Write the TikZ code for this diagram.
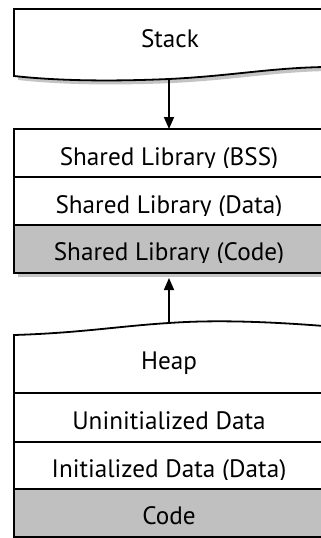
\documentclass[tikz,border=0pt]{standalone}
\usepackage{fontspec}
\setmainfont{PT Sans}
\usetikzlibrary{arrows.meta}
\definecolor{shadowgray}{HTML}{C4C4C4}
\definecolor{codegray}{HTML}{C0C0C0}
\begin{document}
\begin{tikzpicture}[x=1pt,y=-1pt,
  edge/.style={line width=1.8pt, line join=miter},
  lbl/.style={font=\fontsize{25.2}{30}\selectfont, anchor=base, inner sep=0pt},
  conn/.style={line width=1.6pt, -{Triangle[length=12pt,width=10pt]}},
  shade/.style={fill=shadowgray, draw=none},
]
\clip (0,0) rectangle (321,538);

% ---------- Stack ----------
\fill[shade, shift={(4,4)}] (14,9) -- (324,9) -- (324,67)
  .. controls (270,68) and (230,76) .. (169,79)
  .. controls (100,82) and (50,80) .. (14,76) -- cycle;
\draw[edge, fill=white] (14,9) -- (324,9) -- (324,67)
  .. controls (270,68) and (230,76) .. (169,79)
  .. controls (100,82) and (50,80) .. (14,76) -- cycle;
\node[lbl] (stack) at (170,47) {Stack};
\coordinate (stackbot) at (169,79);

% ---------- Shared library ----------
\fill[shade] (18,133) rectangle (328,277);
\fill[white] (14,129) rectangle (324,225);
\fill[codegray] (14,225) rectangle (324,273);
\draw[edge] (14,129) rectangle (324,273);
\draw[edge] (14,177) -- (324,177);
\draw[edge] (14,225) -- (324,225);
\coordinate (libtop) at (169,129);
\coordinate (libbot) at (169,278);
\begin{scope}
  \clip (14,130) rectangle (324,167);
  \node[lbl] (bss) at (169,165) {Shared Library (BSS)};
\end{scope}
\begin{scope}
  \clip (14,178) rectangle (324,215);
  \node[lbl] (sdata) at (169,213) {Shared Library (Data)};
\end{scope}
\begin{scope}
  \clip (14,226) rectangle (324,262);
  \node[lbl] (scode) at (169,260) {Shared Library (Code)};
\end{scope}

% ---------- Heap / data / code ----------
\fill[white] (14,335) .. controls (80,333) and (120,326) .. (169,323)
  .. controls (210,320) and (260,321) .. (324,326) -- (324,489) -- (14,489) -- cycle;
\fill[codegray] (14,489) rectangle (324,537);
\draw[edge] (14,335) .. controls (80,333) and (120,326) .. (169,323)
  .. controls (210,320) and (260,321) .. (324,326) -- (324,537) -- (14,537) -- cycle;
\draw[edge] (14,393) -- (324,393);
\draw[edge] (14,442) -- (324,442);
\draw[edge] (14,489) -- (324,489);
\coordinate (heaptop) at (169,323);
\node[lbl] (heap) at (169,369) {Heap};
\node[lbl] (uninit) at (169,429) {Uninitialized Data};
\begin{scope}
  \clip (14,443) rectangle (324,479);
  \node[lbl] (init) at (169,477) {Initialized Data (Data)};
\end{scope}
\node[lbl] (code) at (169,524) {Code};

% ---------- connectors ----------
\draw[conn] (stackbot) -- (libtop);
\draw[conn] (heaptop) -- (libbot);
\end{tikzpicture}
\end{document}
